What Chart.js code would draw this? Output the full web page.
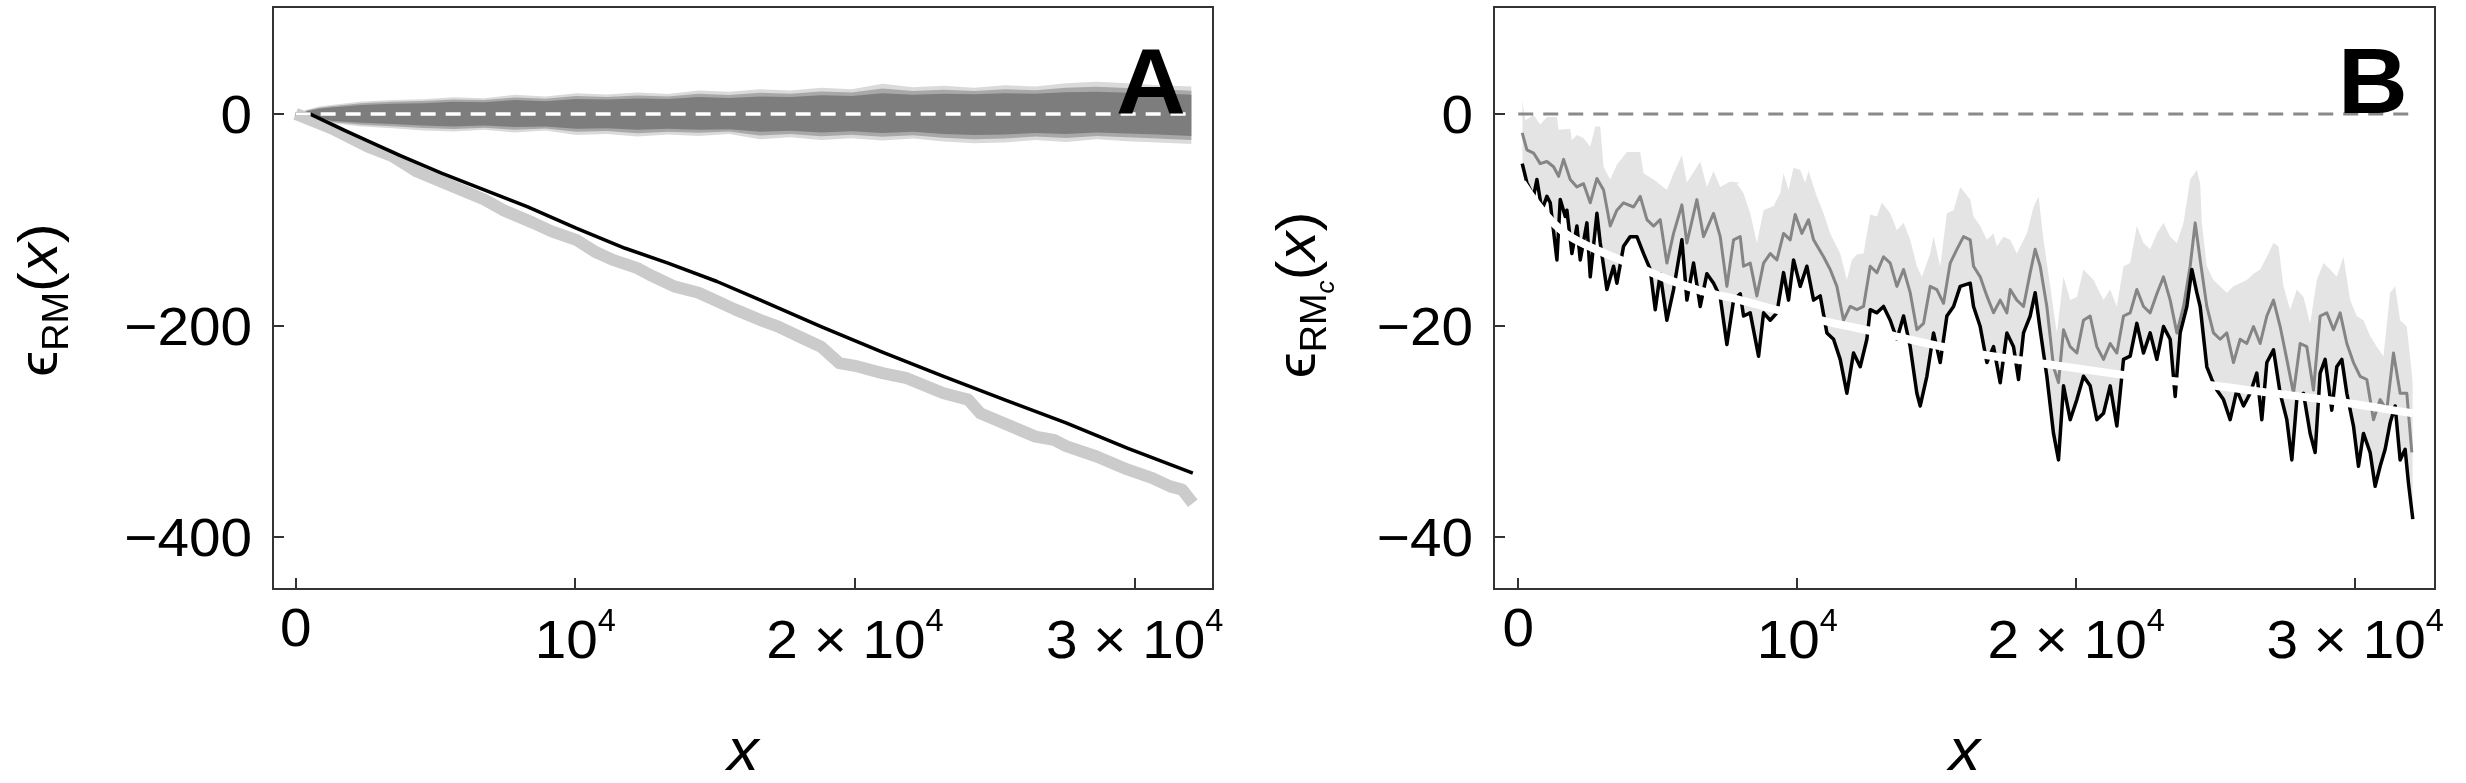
<!DOCTYPE html>
<html>
<head>
<meta charset="utf-8">
<script src="https://cdn.jsdelivr.net/npm/chart.js@4.4.0/dist/chart.umd.min.js"></script>
<style>
  body { margin: 0; background: #fff; }
  #wrap { position: relative; width: 2466px; height: 783px; }
  canvas { position: absolute; top: 0; }
</style>
</head>
<body>
<div id="wrap">
  <canvas id="chart-a" width="1240" height="783" style="left:0"></canvas>
  <canvas id="chart-b" width="1226" height="783" style="left:1240px"></canvas>
</div>
<script>
// ---- shared axis ticks ----
const xTicks = [0, 10000, 20000, 30000];
const xTickLabels = [['0'], ['10', '4'], ['2 \u00d7 10', '4'], ['3 \u00d7 10', '4']];
const yTicksA = [0, -200, -400];
const yTickLabelsA = ['0', '\u2212200', '\u2212400'];
const yTicksB = [0, -20, -40];
const yTickLabelsB = ['0', '\u221220', '\u221240'];

// ---- panel A: ensemble of shuffled walks (envelopes) ----
const ensX = [0, 394, 832, 1270, 2365, 3460, 4554, 5649, 6744, 7839, 8934, 10028, 11123, 12218, 13313, 14408,
  15502, 16597, 17692, 18787, 19882, 20977, 22071, 23166, 24261, 25356, 26451, 27545, 28640, 29735, 30830, 32034];
const ensOuterUp = [0, 3.8, 6.9, 8.5, 11.7, 13.2, 13.9, 15.8, 14.8, 18.0, 16.4, 19.5, 18.3, 20.2, 18.9, 22.1,
  20.8, 23.3, 22.1, 24.6, 23.3, 28.4, 25.2, 26.5, 24.6, 27.1, 25.8, 29.0, 30.3, 29.0, 27.1, 25.8];
const ensOuterLow = [0, -3.2, -5.7, -8.8, -12.0, -13.6, -15.8, -16.7, -15.1, -17.7, -15.8, -19.9, -18.9, -21.4, -19.5, -20.8,
  -18.9, -24.0, -22.1, -24.6, -23.0, -25.2, -23.3, -26.2, -27.7, -27.1, -24.6, -26.5, -24.0, -25.8, -27.1, -28.4];
const ensMidUp = [0, 3.2, 5.9, 7.3, 10.1, 11.4, 12.2, 13.7, 13.0, 15.5, 14.2, 16.8, 15.9, 17.4, 16.5, 19.1,
  17.9, 19.9, 19.1, 21.1, 20.2, 24.0, 21.6, 22.8, 21.6, 23.3, 22.4, 24.8, 25.7, 24.5, 23.3, 21.9];
const ensMidLow = [0, -2.9, -4.9, -7.7, -10.3, -11.6, -13.4, -14.4, -13.1, -15.1, -13.9, -17.0, -16.2, -18.2, -16.8, -17.9,
  -16.7, -20.5, -19.1, -21.1, -19.8, -21.6, -20.2, -22.6, -23.9, -23.3, -21.3, -22.8, -20.8, -22.2, -23.3, -24.7];
const ensCoreUp = [0, 2.5, 4.8, 6.0, 8.5, 9.5, 10.0, 11.5, 11.0, 13.0, 12.0, 14.0, 13.5, 14.5, 14.0, 16.0,
  15.0, 16.5, 16.0, 17.5, 17.0, 19.5, 18.0, 19.0, 18.5, 19.5, 19.0, 20.5, 21.0, 20.0, 19.5, 18.0];
const ensCoreLow = [0, -2.5, -4.0, -6.5, -8.5, -9.5, -11.0, -12.0, -11.0, -12.5, -12.0, -14.0, -13.5, -15.0, -14.0, -15.0,
  -14.5, -17.0, -16.0, -17.5, -16.5, -18.0, -17.0, -19.0, -20.0, -19.5, -18.0, -19.0, -17.5, -18.5, -19.5, -21.0];

// panel A: thick grey curve
const simX = [0, 1270, 2584, 3460, 4335, 5211, 6744, 7401, 8496, 9153, 10028, 10685, 11342, 12218, 12656, 13532,
  14408, 15065, 15722, 16597, 17255, 18130, 18787, 19444, 20100, 20977, 21852, 23166, 24042, 24480, 26450, 27107,
  27545, 28640, 29735, 30611, 31268, 31706, 32078];
const simY = [0, -13.5, -31, -40, -54.5, -64, -81, -90.7, -103, -111, -119, -130, -138, -145.8, -152, -163,
  -169, -177, -185, -194.6, -201, -212, -220, -235.6, -238.7, -245, -249.8, -264, -270, -283, -305, -308,
  -314, -323.8, -336, -344, -352, -355.3, -368];

// panel A: black curve
const rmX = [0, 504, 1708, 3679, 5211, 8277, 10028, 11780, 13313, 15065, 16597, 18787, 20977, 23166, 25356, 27545, 29735, 32078];
const rmY = [0, 0, -15.1, -38.7, -56, -87.6, -108, -127, -141, -158.4, -175.7, -201, -225.2, -248, -270.2, -292, -315.9, -339.5];

const zeroAX = [0, 32050];
const zeroAY = [0, 0];

// ---- panel B ----
const bandX = [143, 251, 549, 788, 1027, 1386, 1446, 1864, 1924, 2103, 2342, 2581, 2760, 2939, 3058, 3297, 3536, 3895, 4373, 4492,
  4851, 5328, 5567, 5866, 6045, 6523, 6762, 7001, 7240, 7598, 7957,
  7837, 8076, 8315, 8554, 8793, 9151, 9390, 9510, 9689, 9868, 10107, 10286, 10405, 10704, 10943, 11182, 11540, 11779, 11959, 12138,
  12377, 12616, 12855, 13034, 13333, 13572, 13811, 14049, 14288, 14468, 14766, 14886, 15125, 15364, 15603, 15841, 16200,
  16319, 16558, 16797, 17036, 17155, 17394, 17633, 17872, 18230, 18469, 18649, 18828, 19067, 19306, 19545, 19784, 20023, 20261,
  20620, 20978, 21217, 21456, 21695, 21934, 22173, 22412, 22651, 22890, 23129, 23368, 23607, 23846, 24084, 24323, 24443,
  24502, 24681, 24920, 25159, 25398, 25637, 25876, 26115, 26354, 26593, 26832, 27071, 27250, 27429, 27668, 27907, 28146, 28385,
  28624, 28863, 29102, 29340, 29579, 29818, 30057, 30296, 30535, 30774, 31013, 31252, 31431, 31610, 31849, 32064];
const bandUp = [1.3, -0.6, -0.1, -1.0, -0.3, -0.3, -1.5, -1.4, -2.5, -2.0, -2.3, -3.1, -1.2, -1.2, -5.0, -6.2, -4.8, -3.6, -3.6, -5.6,
  -6.2, -7.2, -5.6, -3.9, -6.5, -4.5, -6.9, -5.4, -6.9, -6.4, -6.5,
  -6.6, -7.5, -9.4, -12.2, -9.1, -8.7, -7.5, -5.6, -7.2, -5.1, -5.3, -6.5, -5.4, -7.8, -9.4, -11.3, -13.2, -15.7, -13.8, -13.3,
  -13.2, -9.5, -9.7, -8.4, -9.4, -11.0, -10.3, -11.9, -14.4, -15.4, -13.2, -11.6, -14.4, -9.4, -9.1, -6.9, -8.1,
  -9.7, -10.6, -11.9, -11.3, -12.5, -11.6, -11.9, -13.2, -11.3, -8.8, -7.8, -11.9, -16.3, -20.7, -15.4, -17.6, -17.3, -14.7,
  -15.7, -17.6, -16.6, -18.2, -14.4, -14.1, -10.6, -12.2, -12.8, -11.3, -10.3, -11.6, -12.2, -10.3, -6.2, -5.3, -6.6,
  -10.3, -14.4, -15.7, -16.3, -16.9, -16.3, -16.0, -15.7, -15.1, -14.7, -13.5, -12.2, -12.5, -16.3, -18.5, -16.6, -17.3, -19.8,
  -15.7, -14.1, -14.7, -15.4, -13.5, -17.6, -19.1, -19.5, -21.0, -22.0, -22.9, -16.9, -16.3, -19.5, -20.1, -25.4];

const grayX = [143, 310, 549, 788, 1027, 1266, 1446, 1625, 1864, 2103, 2342, 2581, 2820, 3058, 3297, 3536, 3775, 4134, 4373, 4612,
  4851, 5089, 5328, 5567, 5866, 6045, 6403, 6642, 7001, 7240, 7479, 7718, 7957,
  8076, 8315, 8554, 8793, 9032, 9271, 9510, 9749, 9928, 10167, 10405, 10585, 10943, 11182, 11421, 11660, 11899, 12138, 12377, 12616,
  12855, 13094, 13333, 13572, 13811, 14049, 14288, 14527, 14766, 15005, 15244, 15483, 15722, 15961, 16200,
  16319, 16558, 16797, 17036, 17275, 17514, 17633, 17872, 18111, 18350, 18529, 18708, 18947, 19186, 19365, 19545, 19784, 20023,
  20261, 20500, 20739, 20978, 21217, 21456, 21695, 21934, 22173, 22412, 22651, 22890, 23129, 23368, 23607, 23846, 24084, 24264, 24443,
  24681, 24920, 25159, 25398, 25637, 25876, 26115, 26354, 26593, 26832, 27071, 27310, 27549, 27788, 28027, 28265, 28504, 28743,
  28982, 29221, 29460, 29699, 29938, 30177, 30416, 30655, 30894, 31132, 31372, 31610, 31849, 32029];
const grayY = [-1.8, -3.4, -3.7, -4.7, -4.5, -5.0, -5.9, -4.3, -6.2, -6.9, -6.6, -8.4, -6.1, -7.2, -10.6, -9.1, -8.4, -8.8, -7.8, -10.0,
  -10.6, -10.0, -14.1, -11.3, -8.6, -12.2, -8.1, -11.6, -9.4, -11.6, -16.3, -11.9, -11.6,
  -14.4, -14.1, -17.2, -14.1, -13.2, -13.8, -11.3, -11.9, -9.5, -11.3, -10.0, -11.9, -13.5, -14.7, -16.3, -19.5, -18.2, -18.5, -18.2, -14.4,
  -15.0, -13.5, -14.1, -16.3, -14.7, -16.9, -20.4, -19.8, -16.3, -16.6, -17.9, -14.1, -12.8, -11.6, -11.9,
  -14.4, -15.4, -17.2, -18.8, -17.6, -18.8, -16.6, -17.6, -18.2, -15.0, -12.8, -14.4, -18.2, -23.9, -25.4, -20.4, -22.0, -22.6,
  -19.5, -19.1, -22.0, -23.2, -21.7, -22.6, -19.1, -18.8, -16.6, -18.2, -18.8, -17.0, -15.4, -17.6, -20.7, -18.2, -14.4, -10.3, -13.8,
  -18.2, -20.7, -21.3, -20.7, -23.5, -21.3, -21.7, -20.1, -21.7, -19.1, -17.6, -20.1, -23.2, -26.4, -21.7, -22.0, -26.1, -19.1,
  -18.8, -20.4, -18.8, -21.7, -23.5, -24.8, -25.1, -28.9, -27.0, -28.0, -22.6, -26.4, -26.4, -32.0];

const blackX = [143, 310, 549, 669, 848, 1027, 1147, 1386, 1505, 1685, 1744, 1924, 2103, 2222, 2461, 2581, 2820, 2939, 3178, 3417,
  3536, 3775, 4014, 4253, 4492, 4731, 4910, 5089, 5328, 5567, 5866, 6045, 6284, 6523, 6762, 7001, 7240, 7479, 7718, 7957,
  8076, 8315, 8614, 8793, 9032, 9271, 9510, 9689, 9868, 10107, 10346, 10585, 10824, 11063, 11302, 11540, 11779, 12018, 12257, 12496,
  12616, 12855, 13094, 13333, 13572, 13811, 14049, 14288, 14408, 14647, 14886, 15125, 15364, 15603, 15841, 16200,
  16319, 16558, 16797, 17036, 17275, 17514, 17753, 17932, 18111, 18350, 18529, 18708, 18947, 19186, 19365, 19545, 19784, 20023,
  20261, 20500, 20739, 20978, 21217, 21456, 21695, 21934, 22173, 22412, 22651, 22890, 23129, 23368, 23547, 23726, 23965, 24144,
  24323, 24443,
  24681, 24861, 25040, 25279, 25518, 25757, 25996, 26235, 26473, 26653, 26832, 27071, 27310, 27549, 27728, 27907, 28146, 28385,
  28564, 28743, 28922, 29161, 29340, 29520, 29699, 29938, 30117, 30296, 30535, 30714, 30894, 31073, 31252, 31431, 31610, 31790,
  31909, 32064];
const blackY = [-4.7, -6.5, -7.8, -6.2, -9.1, -7.8, -8.4, -13.8, -8.1, -9.7, -9.1, -13.2, -10.6, -13.8, -10.3, -15.4, -9.4, -12.2, -16.6, -14.4,
  -16.0, -12.5, -11.6, -11.6, -13.2, -14.7, -18.5, -15.1, -19.5, -16.6, -11.9, -17.6, -14.1, -18.2, -15.1, -16.0, -17.3, -21.8, -17.6, -17.0,
  -19.1, -18.8, -22.9, -18.8, -19.5, -18.8, -15.0, -17.6, -13.8, -16.3, -14.4, -17.6, -17.2, -20.7, -21.3, -23.2, -26.4, -22.6, -23.9, -21.3,
  -18.5, -18.8, -18.2, -19.5, -21.3, -19.1, -22.0, -26.4, -27.6, -24.8, -20.7, -23.5, -19.1, -18.2, -16.3, -16.0,
  -18.2, -20.1, -23.5, -22.0, -25.4, -20.7, -22.0, -25.1, -20.7, -19.1, -16.9, -20.4, -24.8, -30.2, -32.7, -25.7, -28.9, -27.0,
  -24.8, -25.7, -28.9, -28.3, -25.7, -29.5, -23.2, -22.9, -19.8, -22.6, -20.7, -23.2, -20.1, -21.3, -26.7, -20.7, -18.2, -14.7,
  -16.9, -18.2,
  -23.9, -25.1, -26.1, -27.0, -28.9, -26.1, -27.6, -26.4, -24.5, -28.9, -23.5, -22.3, -26.4, -28.9, -32.7, -27.0, -26.4, -30.2,
  -32.0, -24.5, -23.2, -28.0, -23.9, -23.2, -26.4, -29.5, -33.3, -30.2, -32.0, -35.2, -33.3, -31.7, -29.2, -27.6, -32.7, -31.7,
  -34.9, -38.3];

const fitX = [143, 549, 1147, 1744, 2939, 4134, 5328, 6523, 7957, 9390, 11182, 12974, 15364, 16558, 18828, 21217, 23607, 24681, 26473, 28863, 32064];
const fitY = [-6.5, -8.1, -10.0, -11.4, -13.0, -14.3, -15.6, -16.7, -17.6, -18.6, -19.7, -20.7, -22.1, -22.7, -23.6, -24.5, -25.3, -25.6, -26.2, -27.0, -28.3];

const zeroBX = [0, 32064];
const zeroBY = [0, 0];

// ---- helpers ----
const FONT = '"Liberation Sans", "DejaVu Sans", Arial, sans-serif';
const SX = 1.05;   // labels in the figure are a touch wider than Helvetica
const TICK = 11;
const CLEAR = 'rgba(0,0,0,0)';

function pts(xs, ys) {
  return xs.map((x, i) => ({ x: x, y: ys[i] }));
}

function drawRuns(ctx, runs, x, y, align) {
  const widths = runs.map(r => {
    ctx.font = (r.style || 'normal') + ' ' + r.size + 'px ' + FONT;
    return ctx.measureText(r.s).width * SX;
  });
  const total = widths.reduce((a, b) => a + b, 0);
  let cx = align === 'right' ? x - total : align === 'center' ? x - total / 2 : x;
  runs.forEach((r, i) => {
    ctx.save();
    ctx.font = (r.style || 'normal') + ' ' + r.size + 'px ' + FONT;
    ctx.textAlign = 'left';
    ctx.textBaseline = 'alphabetic';
    ctx.translate(cx, y + (r.dy || 0));
    ctx.scale(SX, 1);
    ctx.fillText(r.s, 0, 0);
    ctx.restore();
    cx += widths[i];
  });
}

// frame, inward ticks, labels and panel letter
function decor(cfg) {
  return {
    id: 'decor',
    afterDraw(chart) {
      const ctx = chart.ctx;
      const a = chart.chartArea;
      const xs = chart.scales.x;
      const ys = chart.scales.y;
      ctx.save();
      ctx.strokeStyle = '#333';
      ctx.lineWidth = 2;
      ctx.strokeRect(a.left, a.top, a.right - a.left, a.bottom - a.top);

      ctx.beginPath();
      xTicks.forEach(v => {
        const px = Math.round(xs.getPixelForValue(v));
        ctx.moveTo(px, a.bottom);
        ctx.lineTo(px, a.bottom - TICK);
      });
      cfg.yTicks.forEach(v => {
        const py = Math.round(ys.getPixelForValue(v));
        ctx.moveTo(a.left, py);
        ctx.lineTo(a.left + TICK, py);
      });
      ctx.lineWidth = 2;
      ctx.stroke();

      ctx.fillStyle = '#000';
      cfg.yTicks.forEach((v, i) => {
        drawRuns(ctx, [{ s: cfg.yLabels[i], size: 54 }], a.left - 21, ys.getPixelForValue(v) + 19, 'right');
      });
      xTicks.forEach((v, i) => {
        const lab = xTickLabels[i];
        const runs = [{ s: lab[0], size: 54 }];
        let base = a.bottom + 57;
        if (lab[1]) {
          runs.push({ s: lab[1], size: 31, dy: -27 });
          base = a.bottom + 69;
        }
        drawRuns(ctx, runs, xs.getPixelForValue(v), base, 'center');
      });

      drawRuns(ctx, [{ s: 'x', size: 60, style: 'italic' }], (a.left + a.right) / 2, 770, 'center');

      ctx.save();
      ctx.translate(cfg.titleX, cfg.titleY);
      ctx.rotate(-Math.PI / 2);
      drawRuns(ctx, cfg.titleRuns, 0, 0, 'center');
      ctx.restore();

      drawRuns(ctx, [{ s: cfg.letter, size: 92, style: 'bold' }], cfg.letterX, 113, 'center');
      ctx.restore();
    }
  };
}

function baseOptions(pad, xMin, xMax, yMin, yMax) {
  return {
    responsive: false,
    animation: false,
    devicePixelRatio: 1,
    layout: { padding: pad },
    plugins: { legend: { display: false }, tooltip: { enabled: false } },
    elements: { point: { radius: 0 }, line: { tension: 0, borderJoinStyle: 'round' } },
    scales: {
      x: { type: 'linear', min: xMin, max: xMax, display: false },
      y: { type: 'linear', min: yMin, max: yMax, display: false }
    }
  };
}

// Panel A
new Chart(document.getElementById('chart-a'), {
  type: 'line',
  data: {
    datasets: [
      { data: pts(ensX, ensOuterUp), borderColor: CLEAR, borderWidth: 0, backgroundColor: '#dadada', fill: 1, order: 11 },
      { data: pts(ensX, ensOuterLow), borderColor: CLEAR, borderWidth: 0, fill: false, order: 11 },
      { data: pts(ensX, ensMidUp), borderColor: CLEAR, borderWidth: 0, backgroundColor: '#a8a8a8', fill: 3, order: 10 },
      { data: pts(ensX, ensMidLow), borderColor: CLEAR, borderWidth: 0, fill: false, order: 10 },
      { data: pts(ensX, ensCoreUp), borderColor: CLEAR, borderWidth: 0, backgroundColor: '#7d7d7d', fill: 5, order: 9 },
      { data: pts(ensX, ensCoreLow), borderColor: CLEAR, borderWidth: 0, fill: false, order: 9 },
      { data: pts(simX, simY), borderColor: '#cbcbcb', borderWidth: 12, fill: false, order: 8 },
      { data: pts(rmX, rmY), borderColor: '#000', borderWidth: 3.5, fill: false, order: 7 },
      { data: pts(zeroAX, zeroAY), borderColor: '#fff', borderWidth: 3.5, borderDash: [15, 10], fill: false, order: 6 }
    ]
  },
  options: baseOptions({ left: 273, right: 27, top: 7, bottom: 194 }, -810, 32800, -449, 101),
  plugins: [decor({
    yTicks: yTicksA, yLabels: yTickLabelsA,
    titleX: 57, titleY: 300,
    titleRuns: [
      { s: '\u03f5', size: 56 }, { s: 'RM', size: 36, dy: 11 },
      { s: '(', size: 56 }, { s: 'x', size: 56, style: 'italic' }, { s: ')', size: 56 }
    ],
    letter: 'A', letterX: 1151
  })]
});

// Panel B
new Chart(document.getElementById('chart-b'), {
  type: 'line',
  data: {
    datasets: [
      { data: pts(bandX, bandUp), borderColor: CLEAR, borderWidth: 0, backgroundColor: '#e4e4e4', fill: 3, order: 10 },
      { data: pts(zeroBX, zeroBY), borderColor: '#8a8a8a', borderWidth: 3, borderDash: [15, 10], fill: false, order: 9 },
      { data: pts(grayX, grayY), borderColor: '#858585', borderWidth: 3, fill: false, order: 8 },
      { data: pts(blackX, blackY), borderColor: '#000', borderWidth: 3.5, fill: false, order: 7 },
      { data: pts(fitX, fitY), borderColor: '#fff', borderWidth: 8, cubicInterpolationMode: 'monotone', fill: false, order: 6 }
    ]
  },
  options: baseOptions({ left: 254, right: 31, top: 7, bottom: 194 }, -869, 32860, -44.9, 10.1),
  plugins: [decor({
    yTicks: yTicksB, yLabels: yTickLabelsB,
    titleX: 75, titleY: 295,
    titleRuns: [
      { s: '\u03f5', size: 56 }, { s: 'RM', size: 36, dy: 11 }, { s: 'c', size: 25, style: 'italic', dy: 19 },
      { s: '(', size: 56 }, { s: 'x', size: 56, style: 'italic' }, { s: ')', size: 56 }
    ],
    letter: 'B', letterX: 1133
  })]
});
</script>
</body>
</html>
